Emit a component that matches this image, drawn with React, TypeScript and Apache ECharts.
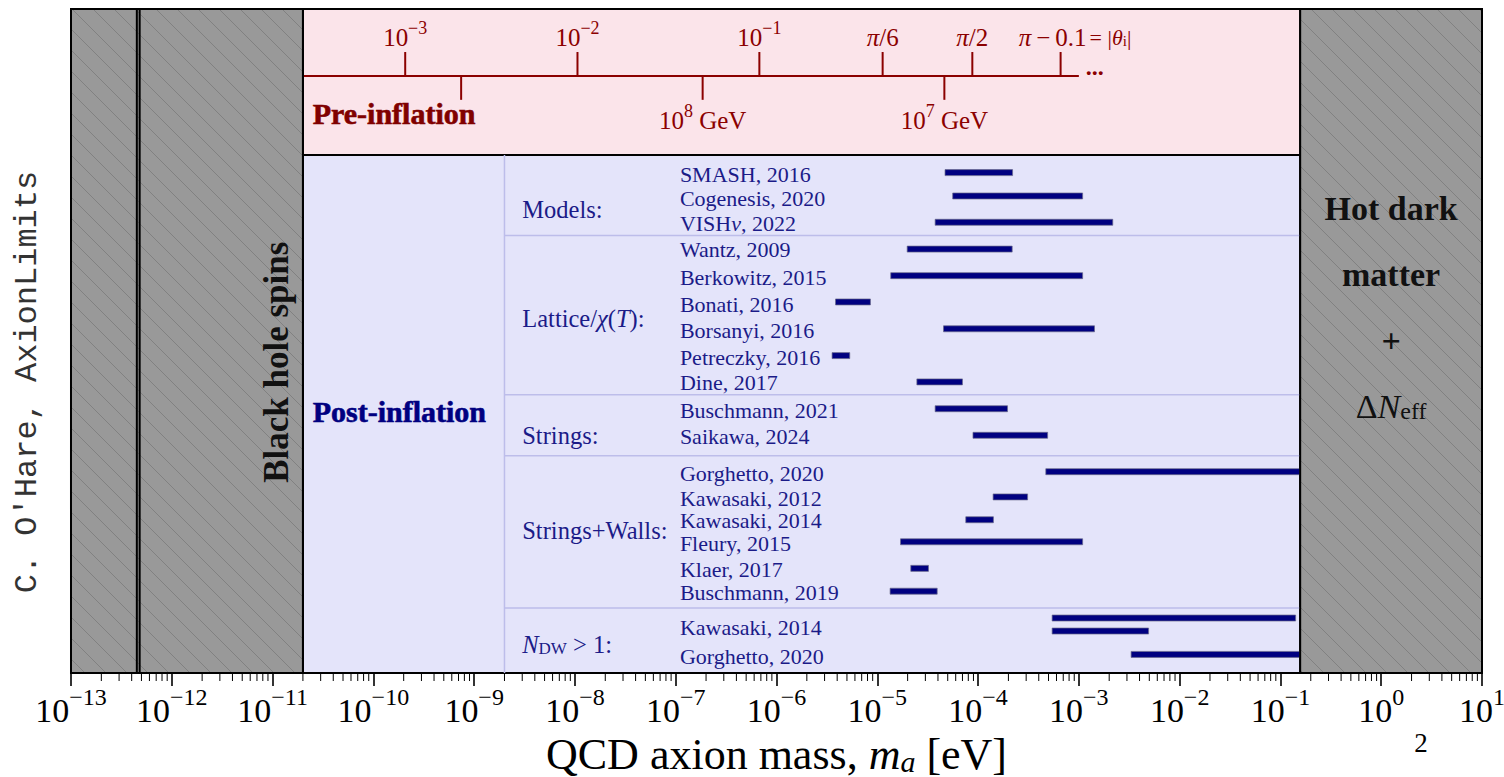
import { useEffect, useRef } from "react";
import * as echarts from "echarts";

const SERIF = "Liberation Serif";
const MONO = "Liberation Mono";

const NAVY = "#000080";
const LABEL_BLUE = "#1b1b88";
const DARK_RED = "#8b0000";
const PINK = "#fbe4ea";
const LAVENDER = "#e4e4fa";
const RULE = "#bdbdea";
const GREY = "#999999";
const HATCH = "#7b7b7b";

// Horizontal axis: log10 of the axion mass in eV
const X_MIN = -13;
const X_MAX = 1;
// Vertical layout in row units, 0 at the top edge of the frame
const Y_MAX = 25;

// Pre-/post-inflation panels
const panelNames = ["Pre-inflation", "Post-inflation"];
const panelLow = [2e-11, 2e-11];
const panelHigh = [0.157, 0.157];
const panelTop = [0, 5.5];
const panelBottom = [5.5, 25];
const panelLabelMass = [2.5e-11, 2.5e-11];
const panelLabelY = [3.92, 15.17];

// Group rules inside the post-inflation panel
const columnRuleMass = 2e-9;
const groupRuleY = [8.53, 14.52, 16.82, 22.55];

// Study groups
const groupLabels = [
  "{n|Models:}",
  "{n|Lattice/}{i|χ}{n|(}{i|T}{n|):}",
  "{n|Strings:}",
  "{n|Strings+Walls:}",
  "{i|N}{sub|DW}{n| > 1:}",
];
const groupLabelMass = 3e-9;
const groupLabelY = [7.45, 11.55, 15.95, 19.53, 23.82];

// Individual studies
const studyLabels = [
  "SMASH, 2016",
  "Cogenesis, 2020",
  "{n|VISH}{i|ν}{n|, 2022}",
  "Wantz, 2009",
  "Berkowitz, 2015",
  "Bonati, 2016",
  "Borsanyi, 2016",
  "Petreczky, 2016",
  "Dine, 2017",
  "Buschmann, 2021",
  "Saikawa, 2024",
  "Gorghetto, 2020",
  "Kawasaki, 2012",
  "Kawasaki, 2014",
  "Fleury, 2015",
  "Klaer, 2017",
  "Buschmann, 2019",
  "Kawasaki, 2014",
  "Gorghetto, 2020",
];
const studyLabelMass = 1.1e-7;
const studyLabelY = [
  6.17, 7.08, 8.02, 9.0, 10.05, 11.07, 12.05, 13.06, 14.0, 15.06, 16.04, 17.43,
  18.37, 19.2, 20.07, 21.05, 21.91, 23.23, 24.32,
];

// Predicted mass ranges (eV)
const rangeLow = [
  4.7e-5, 5.6e-5, 3.75e-5, 1.98e-5, 1.36e-5, 3.85e-6, 4.54e-5, 3.56e-6, 2.47e-5,
  3.75e-5, 8.9e-5, 4.7e-4, 1.41e-4, 7.55e-5, 1.7e-5, 2.15e-5, 1.34e-5, 5.43e-4,
  5.43e-4, 3.3e-3,
];
const rangeHigh = [
  2.2e-4, 1.09e-3, 2.17e-3, 2.18e-4, 1.09e-3, 8.55e-6, 1.43e-3, 5.33e-6, 7.0e-5,
  1.96e-4, 4.9e-4, 0.157, 3.1e-4, 1.42e-4, 1.09e-3, 3.22e-5, 3.93e-5, 0.1416,
  4.92e-3, 0.157,
];
const rangeY = [
  6.16, 7.04, 8.03, 9.04, 10.04, 11.03, 12.04, 13.05, 14.04, 15.05, 16.05, 17.42,
  18.37, 19.23, 20.06, 21.06, 21.92, 22.93, 23.42, 24.3,
];

// Pre-inflation scale: initial misalignment angle (above) and scale (below)
const preAxisFrom = 2e-11;
const preAxisTo = 1e-3;
const preAxisY = 2.52;
const thetaTickMass = [2.07e-10, 1.06e-8, 6.76e-7, 1.13e-5, 8.77e-5, 6.59e-4];
const thetaTickLabels = [
  "{n|10}{sup|−3}",
  "{n|10}{sup|−2}",
  "{n|10}{sup|−1}",
  "{i|π}{n|/6}",
  "{i|π}{n|/2}",
  "{i|π}{n|\u2009−\u20090.1}",
];
const thetaSuffix = "{n|= |}{i|θ}{sub|i}{n||}";
const scaleTickMass = [7.43e-10, 1.85e-7, 4.63e-5];
const scaleTickLabels = ["", "{n|10}{sup|8}{n| GeV}", "{n|10}{sup|7}{n| GeV}"];

// Excluded regions
const excludedLow = [1e-13, 4.5e-13, 0.157];
const excludedHigh = [4.8e-13, 2e-11, 10];

// Minor ticks of the mass axis
const minorTicks: number[] = [];
for (let e = X_MIN; e < X_MAX; e++) {
  for (let k = 2; k <= 9; k++) minorTicks.push(e + Math.log10(k));
}

const lg = (m: number) => Math.log10(m);

// Rich text set: base tokens n/i/r, raised sup and lowered sub
function richSet(size: number, color: string, weight = "normal", lineHeight?: number) {
  const L = lineHeight ?? Math.round(size * 1.25);
  const small = Math.round(size * 0.7);
  const shift = size * 0.28;
  const base = {
    fontFamily: SERIF,
    fontSize: size,
    fontWeight: weight,
    fill: color,
    color,
    lineHeight: L,
    verticalAlign: "bottom",
  };
  return {
    n: { ...base },
    i: { ...base, fontStyle: "italic", fontWeight: "normal" },
    r: { ...base, fontWeight: "normal" },
    sup: {
      fontFamily: SERIF,
      fontSize: small,
      fill: color,
      color,
      lineHeight: Math.max(1, L - 2 * shift),
      verticalAlign: "top",
    },
    sub: {
      fontFamily: SERIF,
      fontSize: small,
      fill: color,
      color,
      lineHeight: Math.max(1, L - 2 * shift),
      verticalAlign: "bottom",
    },
  };
}

function wrap(s: string) {
  return s.includes("{") ? s : `{n|${s}}`;
}

export default function App() {
  const ref = useRef<HTMLDivElement>(null);

  useEffect(() => {
    if (!ref.current) return;
    const chart = echarts.init(ref.current, undefined, { renderer: "svg" });

    const panelSeries = {
      type: "custom",
      z: 1,
      silent: true,
      clip: false,
      data: panelLow.map((lo, i) => [lg(lo), panelTop[i]]),
      renderItem: (params: any, api: any) => {
        const i = params.dataIndex;
        const a = api.coord([lg(panelLow[i]), panelTop[i]]);
        const b = api.coord([lg(panelHigh[i]), panelBottom[i]]);
        return {
          type: "rect",
          shape: { x: a[0], y: a[1], width: b[0] - a[0], height: b[1] - a[1] },
          style: { fill: i === 0 ? PINK : LAVENDER, stroke: "#000", lineWidth: 2 },
        };
      },
    };

    const ruleSeries = {
      type: "custom",
      z: 2,
      silent: true,
      clip: false,
      data: [[lg(columnRuleMass), panelBottom[1]]],
      renderItem: (_params: any, api: any) => {
        const children: any[] = [];
        const t = api.coord([lg(columnRuleMass), panelTop[1]]);
        const b = api.coord([lg(columnRuleMass), panelBottom[1]]);
        children.push({
          type: "line",
          shape: { x1: t[0], y1: t[1], x2: b[0], y2: b[1] },
          style: { stroke: RULE, lineWidth: 1.5 },
        });
        groupRuleY.forEach((y) => {
          const p = api.coord([lg(columnRuleMass), y]);
          const q = api.coord([lg(panelHigh[1]), y]);
          children.push({
            type: "line",
            shape: { x1: p[0], y1: p[1], x2: q[0], y2: q[1] },
            style: { stroke: RULE, lineWidth: 1.5 },
          });
        });
        return { type: "group", children };
      },
    };

    const panelLabelSeries = {
      type: "custom",
      z: 3,
      silent: true,
      clip: false,
      data: panelNames.map((_n, i) => [lg(panelLabelMass[i]), panelLabelY[i]]),
      renderItem: (params: any, api: any) => {
        const i = params.dataIndex;
        const p = api.coord([lg(panelLabelMass[i]), panelLabelY[i]]);
        const col = i === 0 ? "#800000" : NAVY;
        return {
          type: "text",
          x: p[0],
          y: p[1],
          style: {
            text: panelNames[i],
            fontFamily: SERIF,
            fontSize: 30,
            fontWeight: "bold",
            fill: col,
            stroke: col,
            lineWidth: 0.6,
            align: "left",
            verticalAlign: "middle",
          },
        };
      },
    };

    const preAxisSeries = {
      type: "custom",
      z: 3,
      silent: true,
      clip: false,
      data: [[lg(preAxisFrom), preAxisY]],
      renderItem: (_params: any, api: any) => {
        const children: any[] = [];
        const a = api.coord([lg(preAxisFrom), preAxisY]);
        const b = api.coord([lg(preAxisTo), preAxisY]);
        const lineStyle = { stroke: DARK_RED, lineWidth: 2 };
        children.push({ type: "line", shape: { x1: a[0] + 1, y1: a[1], x2: b[0], y2: b[1] }, style: lineStyle });
        const up = api.coord([0, 1.62])[1];
        const down = api.coord([0, 3.42])[1];
        const upLabel = api.coord([0, 0.96])[1];
        const downLabel = api.coord([0, 4.1])[1];
        const rich = richSet(25, DARK_RED);
        thetaTickMass.forEach((m, k) => {
          const x = api.coord([lg(m), preAxisY])[0];
          children.push({ type: "line", shape: { x1: x, y1: a[1], x2: x, y2: up }, style: lineStyle });
          const last = k === thetaTickMass.length - 1;
          children.push({
            type: "text",
            x: last ? x + 26 : x,
            y: upLabel,
            style: {
              text: thetaTickLabels[k],
              rich,
              fill: DARK_RED,
              fontFamily: SERIF,
              fontSize: 25,
              align: last ? "right" : "center",
              verticalAlign: "middle",
            },
          });
          if (last) {
            children.push({
              type: "text",
              x: x + 29,
              y: upLabel,
              style: { text: thetaSuffix, rich: richSet(22, DARK_RED), fill: DARK_RED, fontFamily: SERIF, fontSize: 22, align: "left", verticalAlign: "middle" },
            });
          }
        });
        scaleTickMass.forEach((m, k) => {
          const x = api.coord([lg(m), preAxisY])[0];
          children.push({ type: "line", shape: { x1: x, y1: a[1], x2: x, y2: down }, style: lineStyle });
          if (scaleTickLabels[k]) {
            children.push({
              type: "text",
              x,
              y: downLabel,
              style: { text: scaleTickLabels[k], rich, fill: DARK_RED, fontFamily: SERIF, fontSize: 25, align: "center", verticalAlign: "middle" },
            });
          }
        });
        children.push({
          type: "text",
          x: b[0] + 7,
          y: b[1] + 3,
          style: { text: "...", fill: DARK_RED, fontFamily: SERIF, fontSize: 24, fontWeight: "bold", align: "left", verticalAlign: "bottom" },
        });
        return { type: "group", children };
      },
    };

    const barSeries = {
      type: "custom",
      z: 4,
      silent: true,
      clip: false,
      data: rangeLow.map((lo, i) => [lg(lo), rangeY[i]]),
      renderItem: (params: any, api: any) => {
        const i = params.dataIndex;
        const a = api.coord([lg(rangeLow[i]), rangeY[i]]);
        const b = api.coord([lg(rangeHigh[i]), rangeY[i]]);
        return {
          type: "rect",
          shape: { x: a[0], y: a[1] - 3, width: b[0] - a[0], height: 6 },
          style: { fill: NAVY, stroke: "#6a6a8a", lineWidth: 0.7 },
        };
      },
    };

    const studyLabelSeries = {
      type: "custom",
      z: 4,
      silent: true,
      clip: false,
      data: studyLabels.map((_s, i) => [lg(studyLabelMass), studyLabelY[i]]),
      renderItem: (params: any, api: any) => {
        const i = params.dataIndex;
        const p = api.coord([lg(studyLabelMass), studyLabelY[i]]);
        return {
          type: "text",
          x: p[0],
          y: p[1],
          style: {
            text: wrap(studyLabels[i]),
            rich: richSet(22, LABEL_BLUE, "normal", 25),
            fill: LABEL_BLUE,
            fontFamily: SERIF,
            fontSize: 22,
            align: "left",
            verticalAlign: "middle",
          },
        };
      },
    };

    const groupLabelSeries = {
      type: "custom",
      z: 4,
      silent: true,
      clip: false,
      data: groupLabels.map((_s, i) => [lg(groupLabelMass), groupLabelY[i]]),
      renderItem: (params: any, api: any) => {
        const i = params.dataIndex;
        const p = api.coord([lg(groupLabelMass), groupLabelY[i]]);
        return {
          type: "text",
          x: p[0],
          y: p[1],
          style: {
            text: groupLabels[i],
            rich: richSet(24.5, LABEL_BLUE),
            fill: LABEL_BLUE,
            fontFamily: SERIF,
            fontSize: 24.5,
            align: "left",
            verticalAlign: "middle",
          },
        };
      },
    };

    const excludedFillSeries = {
      type: "custom",
      z: 10,
      silent: true,
      clip: false,
      data: excludedLow.map((lo, i) => [lg(lo), 0]),
      renderItem: (params: any, api: any) => {
        const i = params.dataIndex;
        const p0 = api.coord([lg(excludedLow[i]), 0]);
        const p1 = api.coord([lg(excludedHigh[i]), Y_MAX]);
        const x0 = p0[0], y0 = p0[1], x1 = p1[0], y1 = p1[1];
        const children: any[] = [
          { type: "rect", shape: { x: x0, y: y0, width: x1 - x0, height: y1 - y0 }, style: { fill: GREY } },
        ];
        const s = 21;
        for (let c = Math.floor((y0 - x1) / s) * s; c <= y1 - x0; c += s) {
          const xa = Math.max(x0, y0 - c);
          const xb = Math.min(x1, y1 - c);
          if (xb > xa) {
            children.push({
              type: "line",
              shape: { x1: xa, y1: xa + c, x2: xb, y2: xb + c },
              style: { stroke: HATCH, lineWidth: 0.8 },
            });
          }
        }
        return { type: "group", children };
      },
    };

    const excludedEdgeSeries = {
      type: "custom",
      z: 11,
      silent: true,
      clip: false,
      data: excludedLow.map((lo, i) => [lg(lo), 0]),
      renderItem: (params: any, api: any) => {
        const i = params.dataIndex;
        const p0 = api.coord([lg(excludedLow[i]), 0]);
        const p1 = api.coord([lg(excludedHigh[i]), Y_MAX]);
        return {
          type: "rect",
          shape: { x: p0[0], y: p0[1], width: p1[0] - p0[0], height: p1[1] - p0[1] },
          style: { fill: "none", stroke: "#000", lineWidth: 2 },
        };
      },
    };

    const excludedLabelSeries = {
      type: "custom",
      z: 12,
      silent: true,
      clip: false,
      data: [[lg(1.1e-11), 13.3], [lg(1.253), 10.62]],
      renderItem: (params: any, api: any) => {
        const i = params.dataIndex;
        if (i === 0) {
          const p = api.coord([lg(1.1e-11), 13.3]);
          return {
            type: "text",
            x: p[0],
            y: p[1],
            rotation: Math.PI / 2,
            style: {
              text: "Black hole spins",
              fontFamily: SERIF,
              fontSize: 35,
              fontWeight: "bold",
              fill: "#111",
              align: "center",
              verticalAlign: "middle",
            },
          };
        }
        const p = api.coord([lg(Math.sqrt(excludedLow[2] * excludedHigh[2])), 10.62]);
        return {
          type: "text",
          x: p[0],
          y: p[1],
          style: {
            text: "{n|Hot dark}\n{n|matter}\n{n|+}\n{r|Δ}{i|N}{sub|eff}",
            rich: richSet(34, "#111", "bold", 66),
            fill: "#111",
            fontFamily: SERIF,
            fontSize: 34,
            align: "center",
            verticalAlign: "middle",
          },
        };
      },
    };

    const minorTickSeries = {
      type: "custom",
      z: 12,
      silent: true,
      clip: false,
      data: minorTicks.map((v) => [v, Y_MAX]),
      renderItem: (params: any, api: any) => {
        const v = minorTicks[params.dataIndex];
        const p = api.coord([v, Y_MAX]);
        return {
          type: "line",
          shape: { x1: p[0], y1: p[1], x2: p[0], y2: p[1] + 8 },
          style: { stroke: "#000", lineWidth: 1 },
        };
      },
    };

    const axisRich = {
      b: { fontFamily: SERIF, fontSize: 34, color: "#000", lineHeight: 42, verticalAlign: "bottom" },
      s: { fontFamily: SERIF, fontSize: 24, color: "#000", lineHeight: 24, verticalAlign: "top" },
    };
    const titleRich = {
      n: { fontFamily: SERIF, fontSize: 44, color: "#000", lineHeight: 50, verticalAlign: "bottom" },
      i: { fontFamily: SERIF, fontSize: 44, fontStyle: "italic", color: "#000", lineHeight: 50, verticalAlign: "bottom" },
      sub: { fontFamily: SERIF, fontSize: 30, fontStyle: "italic", color: "#000", lineHeight: 28, verticalAlign: "bottom" },
    };

    chart.setOption({
      animation: false,
      backgroundColor: "#fff",
      grid: {
        left: 71,
        top: 9,
        width: 1411,
        height: 664,
        containLabel: false,
        outerBoundsMode: "none",
      },
      xAxis: {
        type: "value",
        min: X_MIN,
        max: X_MAX,
        interval: 1,
        axisLine: { show: true, onZero: false, lineStyle: { color: "#000", width: 2 } },
        axisTick: { show: true, length: 13, lineStyle: { color: "#000", width: 1.6 } },
        splitLine: { show: false },
        axisLabel: {
          margin: 12,
          hideOverlap: false,
          showMinLabel: true,
          showMaxLabel: true,
          formatter: (v: number) => `{b|10}{s|${v < 0 ? "−" : ""}${Math.abs(v)}}`,
          rich: axisRich,
        },
        name: "{n|QCD axion mass, }{i|m}{sub|a}{n| [eV]}",
        nameLocation: "middle",
        nameGap: 53,
        nameTextStyle: { rich: titleRich },
      },
      yAxis: { type: "value", min: 0, max: Y_MAX, inverse: true, show: false },
      graphic: [
        {
          type: "text",
          x: 27.5,
          y: 382,
          rotation: Math.PI / 2,
          style: {
            text: "C. O'Hare, AxionLimits",
            fontFamily: MONO,
            fontSize: 32,
            fill: "#333",
            align: "center",
            verticalAlign: "middle",
          },
        },
        {
          type: "text",
          x: 1421,
          y: 743,
          style: { text: "2", fontFamily: SERIF, fontSize: 27, fill: "#000", align: "center", verticalAlign: "middle" },
        },
      ],
      series: [
        panelSeries,
        ruleSeries,
        panelLabelSeries,
        preAxisSeries,
        barSeries,
        studyLabelSeries,
        groupLabelSeries,
        excludedFillSeries,
        excludedEdgeSeries,
        excludedLabelSeries,
        minorTickSeries,
      ],
    });

    return () => chart.dispose();
  }, []);

  return (
    <div
      ref={ref}
      style={{ position: "fixed", left: 0, top: 0, width: 1504, height: 777, background: "#fff" }}
    />
  );
}
